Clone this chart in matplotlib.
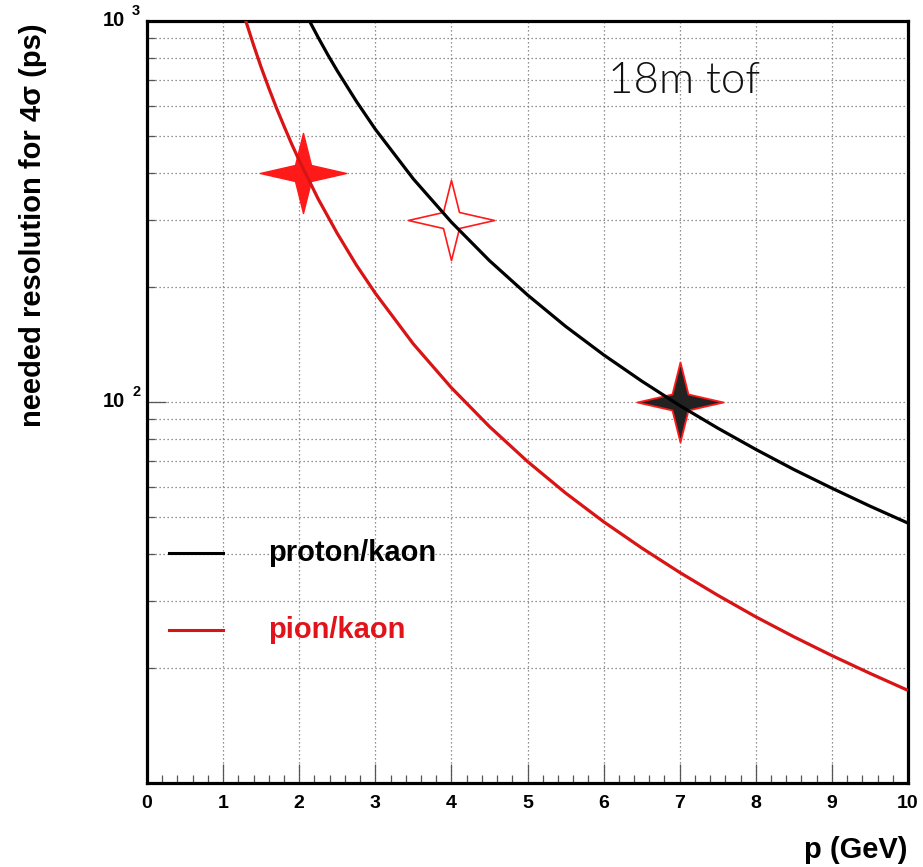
import matplotlib
matplotlib.use("Agg")
import matplotlib.pyplot as plt
import numpy as np
from matplotlib.path import Path
import matplotlib.transforms as mtransforms

plt.rcParams['font.family'] = ['Liberation Sans', 'DejaVu Sans']

# ---- data ----
p_proton_kaon = [2.10, 2.25, 2.375, 2.5, 2.75, 3.0, 3.5, 4.0, 4.5, 5.0, 5.5, 6.0,
                 6.5, 7.0, 7.5, 8.0, 8.5, 9.0, 9.5, 10.0]
res_proton_kaon = [1031, 905, 816, 740, 616, 520, 385, 296.5, 235, 191, 158, 133,
                   113.5, 97.9, 85.4, 75.1, 66.5, 59.4, 53.3, 48.1]

p_pion_kaon = [1.25, 1.3, 1.4, 1.5, 1.6, 1.7, 1.8, 1.9, 2.0, 2.25, 2.5, 2.75, 3.0,
               3.5, 4.0, 4.5, 5.0, 5.5, 6.0, 6.5, 7.0, 7.5, 8.0, 8.5, 9.0, 9.5, 10.0]
res_pion_kaon = [1076, 998, 865, 756, 667, 592, 530, 476, 430.5, 341, 277, 229, 193,
                 142, 109, 86.2, 69.8, 57.7, 48.5, 41.4, 35.7, 31.1, 27.3, 24.2, 21.6, 19.4, 17.5]

star_p = [2.05, 4.0, 7.0]
star_res = [400, 300, 100]

legend_labels = ["proton/kaon", "pion/kaon"]
x_ticks = list(range(0, 11))
y_major = [100, 1000]
y_exponents = ["2", "3"]

BLACK = "#000000"
RED = "#d91414"

# ---- figure ----
fig = plt.figure(figsize=(9.23, 8.67), dpi=100)
ax = fig.add_axes([147/923, 84/867, 761/923, 762/867])
ax.set_yscale('log')
ax.set_xlim(0, 10)
ax.set_ylim(10, 1000)

# grid
grid_kw = dict(color='#707070', linewidth=0.9, linestyle=(0, (1, 2.2)), zorder=0)
for xv in x_ticks[1:-1]:
    ax.axvline(xv, **grid_kw)
for dec in [10, 100]:
    for m in range(1, 10):
        v = dec * m
        if 10 < v < 1000:
            ax.axhline(v, **grid_kw)

# curves
ax.plot(p_proton_kaon, res_proton_kaon, color=BLACK, lw=2.3, zorder=5, solid_capstyle='butt')
ax.plot(p_pion_kaon, res_pion_kaon, color=RED, lw=2.3, zorder=5, solid_capstyle='butt')

# four-pointed star marker
a = 0.2
sx = 1.075
verts = [(0, 1), (a, a), (sx, 0), (a, -a), (0, -1), (-a, -a), (-sx, 0), (-a, a), (0, 1)]
codes = [Path.MOVETO] + [Path.LINETO] * 7 + [Path.CLOSEPOLY]
star = Path(verts, codes)
ms = 62
ax.plot(star_p[0], star_res[0], marker=star, markersize=ms, markerfacecolor='#ff1a1a',
        markeredgecolor='#ff1a1a', markeredgewidth=1.0, ls='none', zorder=3)
ax.plot(star_p[1], star_res[1], marker=star, markersize=ms, markerfacecolor='white',
        markeredgecolor='#ff1a1a', markeredgewidth=1.2, ls='none', zorder=3)
ax.plot(star_p[2], star_res[2], marker=star, markersize=ms, markerfacecolor='#222222',
        markeredgecolor='#ff1a1a', markeredgewidth=1.3, ls='none', zorder=3)

# legend drawn manually
ax.plot([0.029, 0.100], [0.302, 0.302], transform=ax.transAxes, color=BLACK, lw=2.2, zorder=6)
ax.plot([0.029, 0.100], [0.201, 0.201], transform=ax.transAxes, color=RED, lw=2.2, zorder=6)
ax.text(0.159, 0.302, legend_labels[0], transform=ax.transAxes, fontsize=21,
        fontweight='bold', color=BLACK, va='center', ha='left', zorder=6)
ax.text(0.159, 0.201, legend_labels[1], transform=ax.transAxes, fontsize=21,
        fontweight='bold', color='#e0141a', va='center', ha='left', zorder=6)

# annotation
ax.text(0.606, 0.92, "18m tof", transform=ax.transAxes, fontsize=31.5,
        family=['Lato', 'DejaVu Sans'], fontweight=300, color='#111111',
        va='center', ha='left')

# spines
for s in ax.spines.values():
    s.set_linewidth(2.3)
    s.set_color('black')

# ticks
ax.set_xticks(x_ticks)
ax.set_xticks(np.arange(0, 10.01, 0.2), minor=True)
ax.tick_params(axis='x', which='major', direction='in', length=13.5, width=0.9,
               color='#555555', labelsize=14, pad=9, top=False)
ax.tick_params(axis='x', which='minor', direction='in', length=6, width=0.9,
               color='#555555', top=False)
for lab in ax.get_xticklabels():
    lab.set_fontweight('bold')

ax.yaxis.set_major_locator(matplotlib.ticker.FixedLocator(y_major))
ax.yaxis.set_minor_locator(matplotlib.ticker.LogLocator(base=10, subs=np.arange(2, 10)))
ax.yaxis.set_major_formatter(matplotlib.ticker.NullFormatter())
ax.yaxis.set_minor_formatter(matplotlib.ticker.NullFormatter())
ax.tick_params(axis='y', which='major', direction='in', length=13.5, width=0.9,
               color='#555555', right=False)
ax.tick_params(axis='y', which='minor', direction='in', length=6, width=0.9,
               color='#555555', right=False)

trans = mtransforms.blended_transform_factory(ax.transAxes, ax.transData)
for v, e in zip(y_major, y_exponents):
    ax.text(-0.029, v, "10", transform=trans, fontsize=14.5, fontweight='bold',
            ha='right', va='center', clip_on=False)
    ax.text(-0.0195, v * 1.065, e, transform=trans, fontsize=10.5, fontweight='bold',
            ha='left', va='center', clip_on=False)

# axis titles
fig.text(33/923, 1 - 23/867, "needed resolution for 4σ (ps)", rotation=90,
         fontsize=21, fontweight='bold', ha='center', va='top')
fig.text(908/923, 1 - 850/867, "p (GeV)", fontsize=21, fontweight='bold',
         ha='right', va='center')

fig.savefig("out.png", dpi=100)
